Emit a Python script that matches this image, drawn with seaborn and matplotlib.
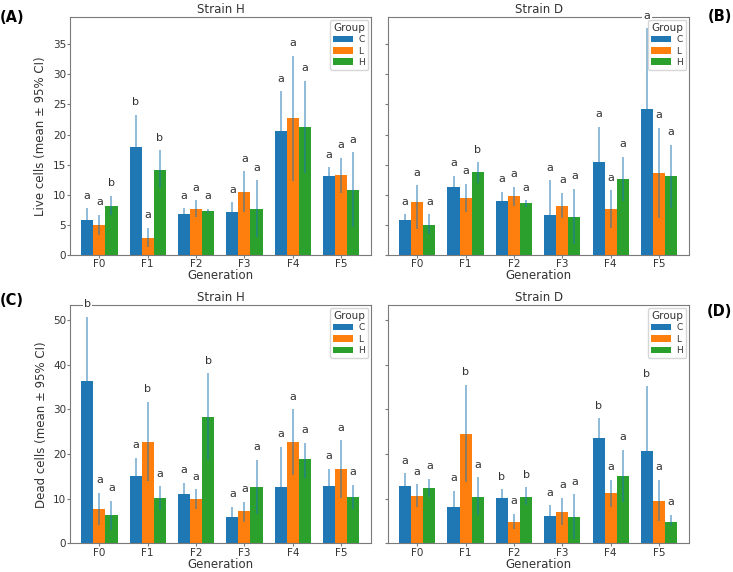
import pandas as pd
import matplotlib
matplotlib.use('Agg')
import matplotlib.pyplot as plt
import seaborn as sns

# generations and groups
generations = ['F0', 'F1', 'F2', 'F3', 'F4', 'F5']
groups = ['C', 'L', 'H']
colors = ['#1f77b4', '#ff7f0e', '#2ca02c']

# Live cells, strain H
live_h_mean = {'C': [5.8, 17.9, 6.8, 7.2, 20.6, 13.2],
               'L': [5.0, 2.9, 7.7, 10.5, 22.8, 13.3],
               'H': [8.2, 14.2, 7.3, 7.6, 21.3, 10.9]}
live_h_lo = {'C': [3.7, 12.4, 5.7, 5.6, 14.0, 11.8],
             'L': [3.3, 1.4, 6.4, 7.1, 12.3, 10.3],
             'H': [6.7, 11.2, 7.0, 3.0, 13.7, 4.7]}
live_h_hi = {'C': [7.8, 23.3, 7.8, 8.8, 27.2, 14.6],
             'L': [6.7, 4.6, 9.1, 13.9, 33.1, 16.2],
             'H': [9.9, 17.4, 7.7, 12.4, 28.9, 17.1]}
live_h_sig = {'C': ['a', 'b', 'a', 'a', 'a', 'a'],
              'L': ['a', 'a', 'a', 'a', 'a', 'a'],
              'H': ['b', 'b', 'a', 'a', 'a', 'a']}

# Live cells, strain D
live_d_mean = {'C': [5.9, 11.3, 9.0, 6.7, 15.4, 24.3],
               'L': [8.8, 9.5, 9.8, 8.2, 7.6, 13.7],
               'H': [5.1, 13.8, 8.6, 6.4, 12.6, 13.1]}
live_d_lo = {'C': [5.0, 9.4, 7.5, 1.0, 9.5, 11.0],
             'L': [4.4, 7.1, 8.2, 6.1, 4.5, 6.2],
             'H': [3.6, 12.0, 8.0, 1.8, 9.0, 7.9]}
live_d_hi = {'C': [6.8, 13.2, 10.5, 12.4, 21.3, 37.6],
             'L': [11.6, 11.8, 11.4, 10.4, 10.8, 21.1],
             'H': [6.8, 15.4, 9.1, 11.0, 16.3, 18.3]}
live_d_sig = {'C': ['a', 'a', 'a', 'a', 'a', 'a'],
              'L': ['a', 'a', 'a', 'a', 'a', 'a'],
              'H': ['a', 'b', 'a', 'a', 'a', 'a']}

# Dead cells, strain H
dead_h_mean = {'C': [36.3, 15.0, 11.0, 6.0, 12.6, 12.9],
               'L': [7.6, 22.8, 10.0, 7.2, 22.8, 16.7],
               'H': [6.3, 10.1, 28.4, 12.6, 18.8, 10.4]}
dead_h_lo = {'C': [21.8, 10.8, 8.5, 3.8, 3.6, 9.1],
             'L': [4.1, 14.0, 7.8, 4.9, 15.3, 10.2],
             'H': [3.1, 7.5, 18.7, 6.5, 14.7, 7.7]}
dead_h_hi = {'C': [50.8, 19.2, 13.5, 8.2, 21.6, 16.7],
             'L': [11.3, 31.7, 12.1, 9.3, 30.0, 23.1],
             'H': [9.6, 12.8, 38.1, 18.7, 22.6, 13.1]}
dead_h_sig = {'C': ['b', 'a', 'a', 'a', 'a', 'a'],
              'L': ['a', 'b', 'a', 'a', 'a', 'a'],
              'H': ['a', 'a', 'b', 'a', 'a', 'a']}

# Dead cells, strain D
dead_d_mean = {'C': [12.9, 8.2, 10.2, 6.1, 23.5, 20.8],
               'L': [10.6, 24.5, 4.9, 7.0, 11.3, 9.6],
               'H': [12.3, 10.5, 10.5, 6.0, 15.0, 4.9]}
dead_d_lo = {'C': [10.1, 4.6, 8.3, 3.6, 19.0, 6.4],
             'L': [8.2, 13.7, 3.2, 4.1, 8.2, 5.0],
             'H': [10.3, 6.4, 8.6, 1.0, 9.2, 3.8]}
dead_d_hi = {'C': [15.7, 11.8, 12.1, 8.5, 28.0, 35.2],
             'L': [13.2, 35.5, 6.6, 10.2, 14.3, 14.3],
             'H': [14.4, 14.8, 12.6, 11.0, 20.9, 6.4]}
dead_d_sig = {'C': ['a', 'a', 'b', 'a', 'b', 'b'],
              'L': ['a', 'b', 'a', 'a', 'a', 'a'],
              'H': ['a', 'a', 'b', 'a', 'a', 'a']}

panels = [
    ('Strain H', 'Live cells (mean ± 95% CI)', live_h_mean, live_h_lo, live_h_hi, live_h_sig),
    ('Strain D', None, live_d_mean, live_d_lo, live_d_hi, live_d_sig),
    ('Strain H', 'Dead cells (mean ± 95% CI)', dead_h_mean, dead_h_lo, dead_h_hi, dead_h_sig),
    ('Strain D', None, dead_d_mean, dead_d_lo, dead_d_hi, dead_d_sig),
]

plt.rcParams['font.family'] = ['DejaVu Sans']
plt.rcParams['axes.edgecolor'] = '#7a7a7a'
plt.rcParams['xtick.color'] = '#7a7a7a'
plt.rcParams['ytick.color'] = '#7a7a7a'
plt.rcParams['xtick.labelcolor'] = '#333333'
plt.rcParams['ytick.labelcolor'] = '#333333'
plt.rcParams['text.color'] = '#333333'
plt.rcParams['axes.labelcolor'] = '#333333'

fig, axes = plt.subplots(2, 2, figsize=(7.33, 5.72), dpi=100, sharey='row')
fig.subplots_adjust(left=0.096, right=0.94, top=0.97, bottom=0.05, wspace=0.057, hspace=0.21)

for ax, (title, ylabel, mean, lo, hi, sig) in zip(axes.flat, panels):
    rows = []
    for g in groups:
        for i, gen in enumerate(generations):
            rows.append({'Generation': gen, 'Group': g, 'mean': mean[g][i]})
    df = pd.DataFrame(rows)

    sns.barplot(data=df, x='Generation', y='mean', hue='Group', order=generations,
                hue_order=groups, palette=colors, width=0.75, errorbar=None,
                linewidth=0, saturation=1, ax=ax)

    # error bars + significance letters on each bar
    for g, cont in zip(groups, ax.containers):
        for bar in cont:
            xc = bar.get_x() + bar.get_width() / 2
            i = int(round(xc))
            ax.vlines(xc, lo[g][i], hi[g][i], color='#1f77b4', alpha=0.5, lw=1.4)
            ax.annotate(sig[g][i], (xc, hi[g][i]), xytext=(0, 5.5), textcoords='offset points',
                        ha='center', va='bottom', fontsize=8, annotation_clip=False,
                        bbox=dict(facecolor='white', edgecolor='none', pad=0.8))

    ax.set_xlim(-0.6, 5.62)
    ax.set_title(title, fontsize=8.5, pad=3)
    ax.set_xlabel('Generation', fontsize=8.5, labelpad=0)
    ax.set_ylabel(ylabel if ylabel else '', fontsize=8.5)
    ax.tick_params(labelsize=7.5, length=2, width=0.8, pad=1)
    sns.move_legend(ax, 'upper right', title='Group', fontsize=6.5, title_fontsize=7.5,
                    handlelength=2.2, borderpad=0.35, labelspacing=0.25, handletextpad=0.6,
                    borderaxespad=0.3)

axes[0, 0].set_yticks(range(0, 36, 5))
axes[1, 0].set_yticks(range(0, 51, 10))

# panel letters
fig.text(0.016, 0.969, '(A)', fontsize=10.5, fontweight='bold', ha='center', va='center', color='black')
fig.text(0.982, 0.971, '(B)', fontsize=10.5, fontweight='bold', ha='center', va='center', color='black')
fig.text(0.016, 0.474, '(C)', fontsize=10.5, fontweight='bold', ha='center', va='center', color='black')
fig.text(0.982, 0.456, '(D)', fontsize=10.5, fontweight='bold', ha='center', va='center', color='black')

fig.savefig('out.png', dpi=100)
